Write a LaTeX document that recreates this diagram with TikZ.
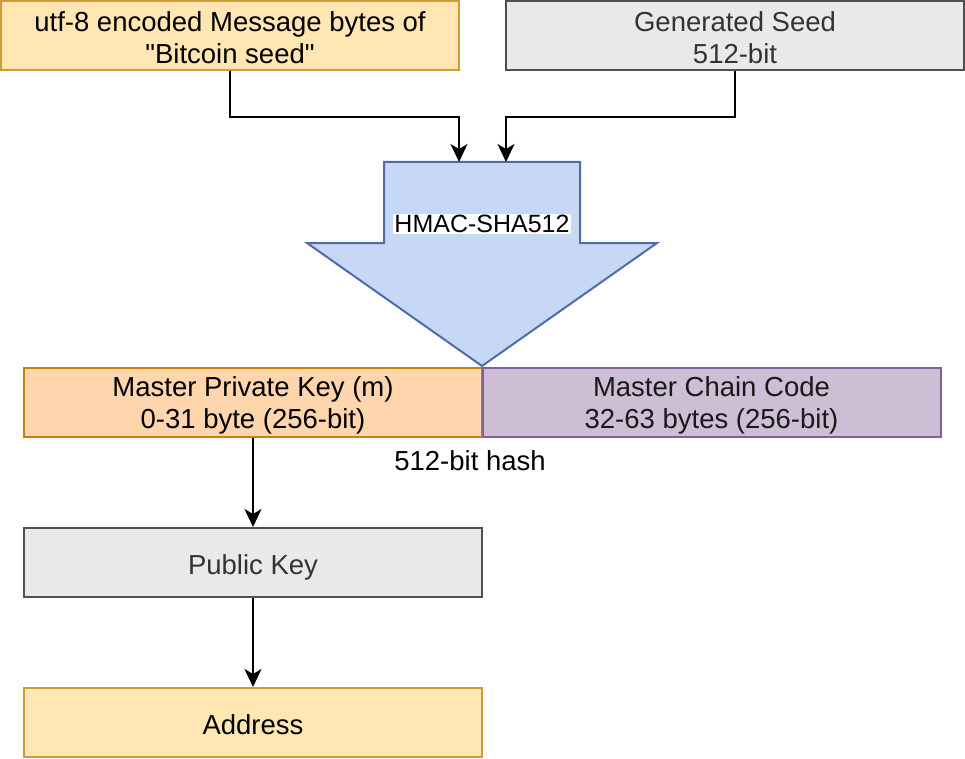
\documentclass[tikz,border=0pt]{standalone}
\usepackage{fontspec}
\setmainfont{Liberation Sans}[Ligatures=TeXOff]
\usetikzlibrary{arrows.meta}
\definecolor{yfill}{RGB}{255,230,179}
\definecolor{ystroke}{RGB}{205,157,52}
\definecolor{gfill}{RGB}{233,233,233}
\definecolor{gstroke}{RGB}{80,80,80}
\definecolor{gtext}{RGB}{51,51,51}
\definecolor{bfill}{RGB}{198,216,246}
\definecolor{bstroke}{RGB}{78,108,168}
\definecolor{ofill}{RGB}{255,213,174}
\definecolor{ostroke}{RGB}{200,128,10}
\definecolor{pfill}{RGB}{205,190,214}
\definecolor{pstroke}{RGB}{128,96,155}
\begin{document}
\begin{tikzpicture}[x=1pt,y=-1pt,
  box/.style={draw, line width=2pt, minimum width=458pt, minimum height=69pt, inner sep=0pt},
  ybox/.style={box, fill=yfill, draw=ystroke},
  gbox/.style={box, fill=gfill, draw=gstroke},
  obox/.style={box, fill=ofill, draw=ostroke},
  pbox/.style={box, fill=pfill, draw=pstroke},
  txt/.style={inner sep=0pt, align=center, font=\fontsize{27.5}{32}\selectfont},
  conn/.style={line width=2pt, -{Stealth[length=18pt,width=17pt,inset=5pt]}}
]
\useasboundingbox (0,0) rectangle (965,759);
% block arrow
\draw[fill=bfill, draw=bstroke, line width=2pt, line join=miter]
  (384,162) -- (580,162) -- (580,243) -- (657,243) -- (482,366) -- (307,243) -- (384,243) -- cycle;
\coordinate (in1) at (459,162);
\coordinate (in2) at (506,162);
\node[fill=white, inner sep=1pt, font=\fontsize{25}{30}\selectfont] (hmac) at (482,224) {HMAC-SHA512};

\node[ybox] (msg) at (230,35.5) {};
\node[txt] (msgt) at ([yshift=-2pt]msg.center) {utf-8 encoded Message bytes of\\"Bitcoin seed"};
\node[gbox] (seed) at (735,35.5) {};
\node[txt, text=gtext] (seedt) at ([yshift=-2pt]seed.center) {Generated Seed\\512-bit};

\node[obox] (mpk) at (253,402.5) {};
\node[txt] (mpkt) at ([yshift=-3pt]mpk.center) {Master Private Key (m)\\0-31 byte (256-bit)};
\node[pbox] (mcc) at (711.5,402.5) {};
\node[txt, text=black!90] (mcct) at ([yshift=-3pt]mcc.center) {Master Chain Code\\32-63 bytes (256-bit)};
\node[txt] (hash) at (470,461) {512-bit hash};

\node[gbox] (pub) at (253,562.5) {};
\node[txt, text=gtext] (pubt) at ([yshift=-5pt]pub.center) {Public Key};
\node[ybox] (addr) at (253,722.5) {};
\node[txt] (addrt) at ([yshift=-2pt]addr.center) {Address};

\draw[conn] (msg.south) -- ++(0,46) -| (in1);
\draw[conn] (seed.south) -- ++(0,46) -| (in2);
\draw[conn] (mpk.south) -- (pub.north);
\draw[conn] (pub.south) -- (addr.north);
\end{tikzpicture}
\end{document}
